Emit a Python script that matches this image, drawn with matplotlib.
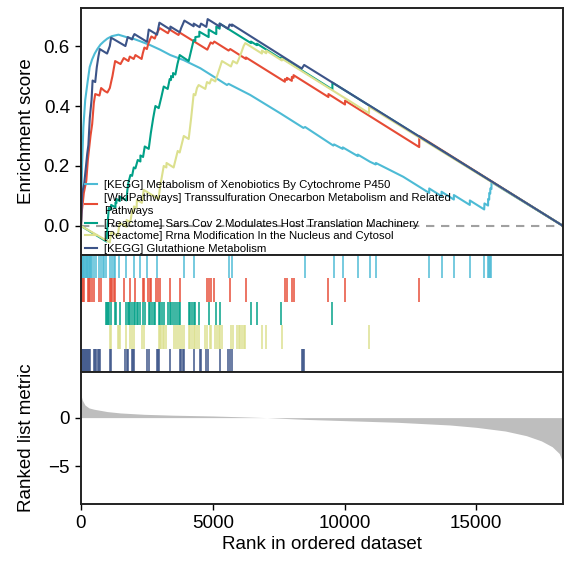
import numpy as np
import matplotlib
matplotlib.use("Agg")
import matplotlib.pyplot as plt

plt.rcParams['font.family'] = ['Liberation Sans', 'DejaVu Sans']

N_GENES = 18290

labels = [
    "[KEGG] Metabolism of Xenobiotics By Cytochrome P450",
    "[WikiPathways] Transsulfuration Onecarbon Metabolism and Related\nPathways",
    "[Reactome] Sars Cov 2 Modulates Host Translation Machinery",
    "[Reactome] Rrna Modification In the Nucleus and Cytosol",
    "[KEGG] Glutathione Metabolism",
]
colors = ["#4DBBD5", "#E64B35", "#00A087", "#DCE08E", "#3C5488"]

# running enrichment score, (rank, ES)
cyan_rank = [0, 40, 90, 160, 250, 330, 420, 520, 620, 740, 860, 1000, 1170, 1420, 1720, 2000,
             2250, 2630, 3000, 3390, 3900, 4530, 5000, 5540, 5600, 5730, 6420, 7557, 8440, 8504,
             9576, 9602, 9930, 9935, 10500, 10505, 10966, 11181, 11190, 12227, 13213, 13214,
             13681, 13682, 14148, 14149, 14754, 14755, 15300, 15310, 15447, 15450, 15490, 15492,
             15530, 15532, 15575, 15577, N_GENES]
cyan_es = [0.0, 0.20, 0.33, 0.42, 0.48, 0.53, 0.555, 0.575, 0.59, 0.605, 0.615, 0.625, 0.633, 0.638,
           0.630, 0.624, 0.616, 0.603, 0.588, 0.570, 0.553, 0.526, 0.50, 0.47, 0.474, 0.468, 0.437,
           0.376, 0.327, 0.33, 0.268, 0.272, 0.257, 0.262, 0.233, 0.238, 0.214, 0.205, 0.21, 0.164,
           0.110, 0.125, 0.099, 0.114, 0.088, 0.103, 0.070, 0.085, 0.055, 0.075, 0.068, 0.09, 0.088,
           0.11, 0.108, 0.125, 0.123, 0.146, 0.0]

red_rank = [0, 19, 60, 107, 200, 260, 360, 424, 486, 540, 700, 764, 900, 1000, 1093, 1143, 1194,
            1244, 1295, 1500, 1623, 1800, 1850, 2000, 2065, 2300, 2343, 2406, 2500, 2545, 2608,
            2671, 2800, 2861, 2924, 2987, 3300, 3366, 3700, 3745, 4793, 4856, 4919, 5000, 5058,
            5600, 5664, 6258, 6260, 7736, 7737, 7812, 7813, 8000, 8001, 8064, 8065, 9388, 9389,
            10019, 10020, 12834, 12835, N_GENES]
red_es = [0.0, 0.04, 0.07, 0.11, 0.15, 0.22, 0.30, 0.34, 0.41, 0.44, 0.435, 0.46, 0.45, 0.445,
          0.46, 0.48, 0.50, 0.525, 0.55, 0.54, 0.56, 0.55, 0.565, 0.557, 0.57, 0.557, 0.575, 0.595,
          0.59, 0.605, 0.62, 0.632, 0.625, 0.64, 0.65, 0.66, 0.643, 0.655, 0.637, 0.645, 0.588,
          0.60, 0.612, 0.608, 0.615, 0.585, 0.59, 0.557, 0.562, 0.481, 0.49, 0.487, 0.494, 0.484,
          0.497, 0.494, 0.503, 0.43, 0.44, 0.405, 0.418, 0.263, 0.30, 0.0]

green_rank = [0, 966, 990, 1020, 1055, 1143, 1144, 1307, 1308, 1345, 1346, 1471, 1472, 1724, 1760,
              1800, 1876, 1939, 2002, 2065, 2153, 2254, 2255, 2355, 2419, 2570, 2650, 2740, 2823,
              2949, 3050, 3139, 3290, 3366, 3416, 3417, 3492, 3493, 3581, 3660, 3745, 4086, 4180,
              4275, 4338, 4339, 4490, 4491, 4844, 4845, 5134, 5135, 5261, 5262, 6448, 6449, 6675,
              6676, 7597, 7598, 9539, 9540, N_GENES]
green_es = [0.0, -0.052, -0.02, 0.02, 0.06, 0.055, 0.07, 0.062, 0.078, 0.076, 0.09, 0.083, 0.098,
            0.085, 0.12, 0.145, 0.17, 0.167, 0.195, 0.192, 0.22, 0.215, 0.235, 0.23, 0.265, 0.257,
            0.31, 0.36, 0.40, 0.393, 0.43, 0.465, 0.457, 0.49, 0.487, 0.50, 0.496, 0.51, 0.505,
            0.54, 0.57, 0.55, 0.585, 0.62, 0.617, 0.63, 0.632, 0.648, 0.63, 0.655, 0.64, 0.665,
            0.658, 0.675, 0.61, 0.615, 0.603, 0.608, 0.557, 0.562, 0.455, 0.478, 0.0]

yellow_rank = [0, 1093, 1150, 1390, 1470, 1720, 1730, 1870, 1940, 2000, 2010, 2110, 2120, 2310,
               2380, 2940, 3000, 3140, 3240, 3245, 3515, 3670, 3745, 3900, 4086, 4180, 4275, 4338,
               4401, 4465, 4717, 4780, 4881, 4945, 5096, 5200, 5349, 5690, 5766, 5917, 6050, 6170,
               6233, 6865, 6866, 7029, 7030, 7622, 7623, 10929, 10930, N_GENES]
yellow_es = [0.0, -0.055, -0.02, -0.033, 0.01, -0.003, 0.02, 0.012, 0.05, 0.047, 0.065, 0.06, 0.087,
             0.077, 0.12, 0.09, 0.13, 0.20, 0.195, 0.21, 0.195, 0.25, 0.245, 0.30, 0.29, 0.36, 0.44,
             0.436, 0.46, 0.47, 0.457, 0.48, 0.475, 0.49, 0.482, 0.51, 0.55, 0.532, 0.55, 0.542,
             0.57, 0.60, 0.61, 0.575, 0.585, 0.576, 0.585, 0.552, 0.558, 0.376, 0.398, 0.0]

navy_rank = [0, 19, 45, 120, 190, 235, 280, 334, 400, 440, 540, 600, 660, 713, 990, 1093, 1143,
             1686, 1730, 1774, 1939, 1980, 2027, 2507, 2540, 2570, 2886, 2930, 2975, 3391, 3392,
             3745, 3800, 3860, 3922, 4275, 4276, 4502, 4553, 4755, 4806, 5261, 5262, 5576, 5640,
             5728, 5729, 8378, 8468, N_GENES]
navy_es = [0.0, 0.04, 0.11, 0.14, 0.20, 0.24, 0.27, 0.36, 0.42, 0.485, 0.48, 0.53, 0.565, 0.59,
           0.575, 0.60, 0.628, 0.60, 0.615, 0.63, 0.622, 0.632, 0.64, 0.614, 0.635, 0.655, 0.638,
           0.658, 0.678, 0.655, 0.665, 0.646, 0.66, 0.672, 0.685, 0.666, 0.675, 0.663, 0.675,
           0.664, 0.69, 0.665, 0.675, 0.658, 0.672, 0.667, 0.672, 0.525, 0.537, 0.0]

# hit positions (ranks) for each gene set
cyan_hits = [5, 30, 60, 90, 120, 150, 180, 210, 240, 270, 300, 330, 360, 390, 420, 511, 587, 675,
             764, 840, 890, 966, 1092, 1180, 1243, 1281, 1433, 1723, 2001, 2254, 2506, 2885, 3895,
             4273, 5600, 5726, 8504, 9602, 9930, 10500, 10966, 11181, 13213, 13681, 14148, 14754,
             15310, 15447, 15490, 15530, 15575]
red_hits = [19, 57, 107, 259, 309, 360, 423, 486, 701, 764, 1093, 1143, 1194, 1244, 1295, 1623,
            1850, 2065, 2343, 2406, 2545, 2608, 2671, 2861, 2924, 2987, 3366, 3745, 4793, 4856,
            4919, 5058, 5664, 6258, 7736, 7812, 8001, 8064, 9388, 10019, 12834]
green_hits = [966, 1000, 1030, 1055, 1143, 1307, 1345, 1471, 1724, 1775, 1825, 1876, 1939, 2002,
              2065, 2110, 2153, 2254, 2355, 2419, 2570, 2630, 2700, 2760, 2823, 2949, 3010, 3075,
              3139, 3290, 3366, 3416, 3492, 3581, 3640, 3700, 3745, 4086, 4150, 4210, 4275, 4338,
              4490, 4844, 5134, 5261, 6448, 6675, 7597, 9539]
yellow_hits = [1093, 1143, 1396, 1430, 1471, 1724, 1876, 1939, 2002, 2318, 2381, 2949, 3000,
               3050, 3100, 3139, 3240, 3518, 3590, 3669, 3745, 3820, 3896, 4086, 4150, 4210,
               4275, 4338, 4401, 4465, 4717, 4780, 4881, 4945, 5096, 5160, 5220, 5290, 5349,
               5690, 5766, 5917, 5980, 6040, 6100, 6170, 6233, 6865, 7029, 7622, 10929]
navy_hits = [19, 60, 100, 145, 190, 235, 280, 315, 334, 486, 530, 580, 630, 680, 739, 1093, 1143,
             1686, 1730, 1774, 1939, 1983, 2027, 2507, 2570, 2886, 2930, 2975, 3391, 3745, 3800,
             3860, 3922, 4275, 4502, 4553, 4755, 4806, 5261, 5576, 5640, 5728, 8380, 8420, 8468]

# ranked list metric, (rank, value)
metric_rank = [0, 50, 150, 300, 500, 1000, 1500, 2400, 3500, 5000, 6000, 7050, 8500, 10000, 12000,
               14000, 15000, 16100, 16900, 17470, 17880, 18150, N_GENES]
metric_val = [2.3, 1.8, 1.3, 1.0, 0.86, 0.62, 0.48, 0.34, 0.25, 0.17, 0.09, 0.0, -0.18, -0.31,
              -0.48, -0.76, -1.0, -1.38, -1.86, -2.4, -3.0, -3.7, -4.7]

es_ranks = [cyan_rank, red_rank, green_rank, yellow_rank, navy_rank]
es_vals = [cyan_es, red_es, green_es, yellow_es, navy_es]
hits = [cyan_hits, red_hits, green_hits, yellow_hits, navy_hits]

W, H = 565, 563
fig = plt.figure(figsize=(W / 100, H / 100), dpi=100)
left, right = 81 / W, 563 / W

def frac(ytop, ybot):
    return [left, 1 - ybot / H, right - left, (ybot - ytop) / H]

ax1 = fig.add_axes(frac(8, 255))
ax2 = fig.add_axes(frac(255, 372))
ax3 = fig.add_axes(frac(372, 504))

spine_lw = 1.4
for ax in (ax1, ax2, ax3):
    for s in ax.spines.values():
        s.set_linewidth(spine_lw)
        s.set_color("#222222")
    ax.set_xlim(0, N_GENES)

fs = 13.5
# top panel
ax1.axhline(0, color="#A0A0A0", lw=1.5, ls=(0, (4, 3.2)), zorder=1)
for r, v, c, lab in zip(es_ranks, es_vals, colors, labels):
    ax1.plot(r, v, color=c, lw=1.5, label=lab, zorder=2)
ax1.set_ylim(-0.097, 0.727)
ax1.set_yticks([0.0, 0.2, 0.4, 0.6])
ax1.set_yticklabels(["0.0", "0.2", "0.4", "0.6"])
ax1.set_xticks([])
ax1.tick_params(axis="y", labelsize=fs, length=4, width=1.0, pad=4)
ax1.set_ylabel("Enrichment score", fontsize=fs)
leg = ax1.legend(loc="lower left", bbox_to_anchor=(0.008, 0.006), frameon=False,
                 fontsize=8.2, handlelength=1.1, handletextpad=0.55, labelspacing=0.22,
                 borderpad=0.0, borderaxespad=0.0)
for t in leg.get_texts():
    t.set_linespacing(1.4)

# hits panel
n = len(hits)
for i, (h, c) in enumerate(zip(hits, colors)):
    ax2.vlines(h, n - 1 - i, n - i, color=c, lw=1.2, alpha=0.9)
ax2.set_ylim(0, n)
ax2.set_xticks([])
ax2.set_yticks([])

# metric panel
ax3.fill_between(metric_rank, 0, metric_val, color="#BEBEBE", lw=0)
ax3.set_ylim(-8.9, 4.7)
ax3.set_yticks([0, -5])
ax3.set_yticklabels(["0", "\u22125"])
ax3.set_xticks([0, 5000, 10000, 15000])
ax3.tick_params(labelsize=fs, length=4, width=1.0, pad=4)
ax3.set_ylabel("Ranked list metric", fontsize=fs)
ax3.set_xlabel("Rank in ordered dataset", fontsize=fs, labelpad=3)

ax1.yaxis.set_label_coords(-0.095, 0.5)
ax3.yaxis.set_label_coords(-0.095, 0.5)

fig.savefig("out.png", dpi=100)
